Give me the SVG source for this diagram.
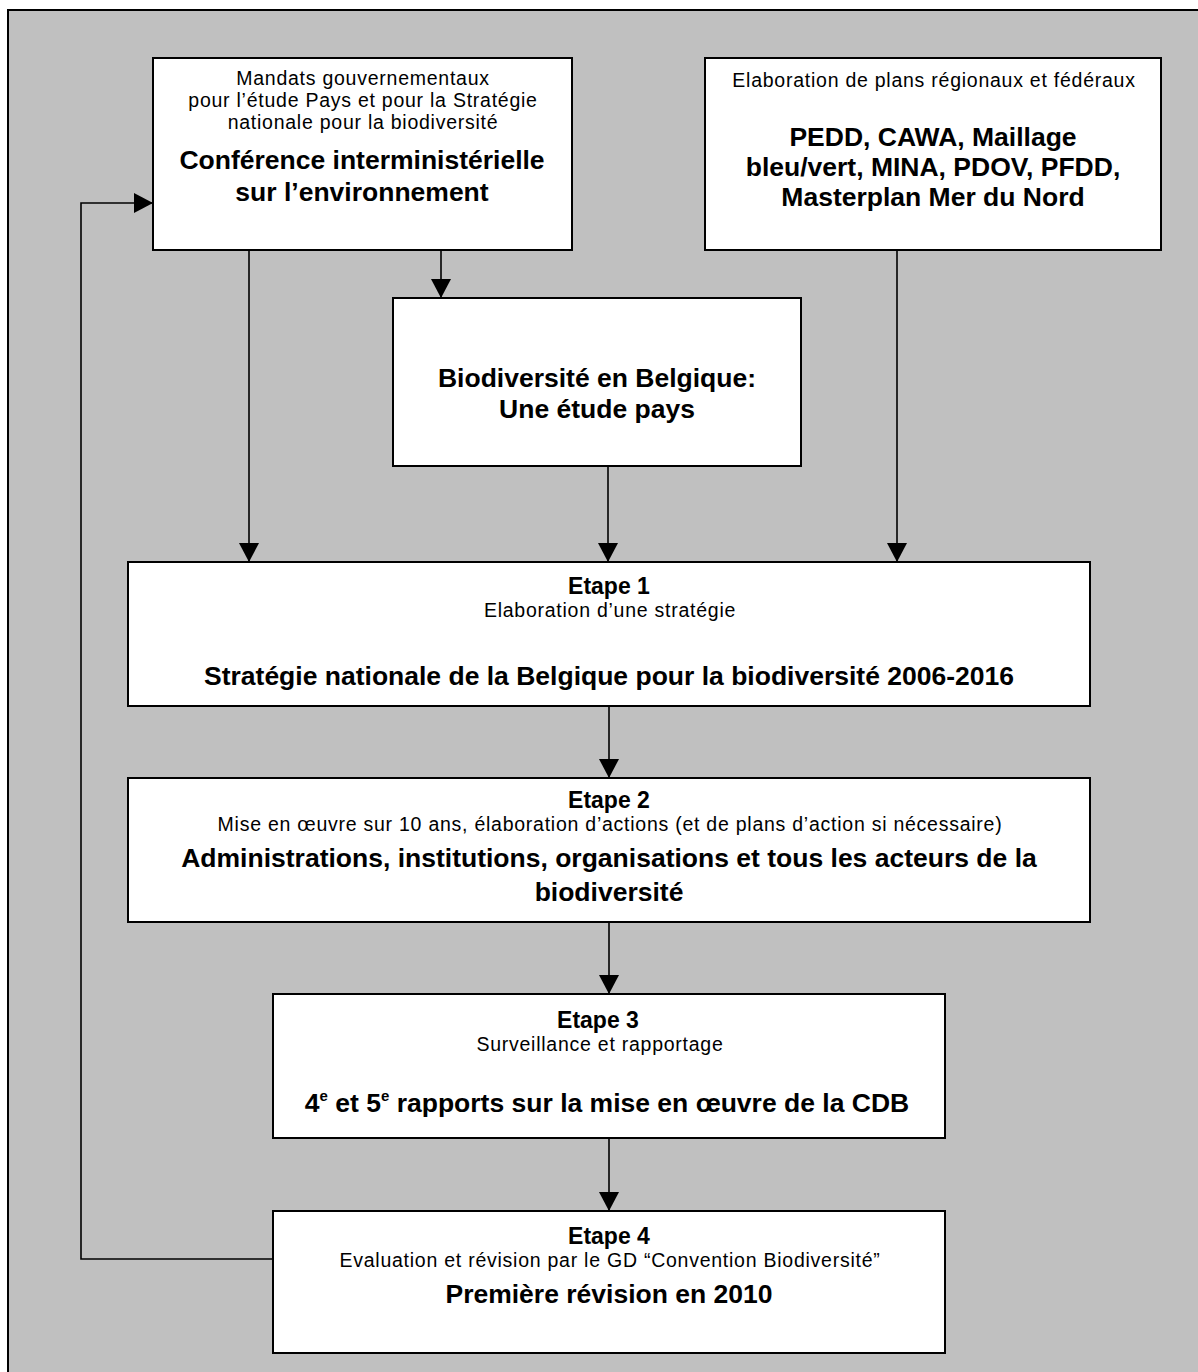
<svg xmlns="http://www.w3.org/2000/svg" width="1198" height="1372" viewBox="0 0 1198 1372">
<style>
.box{fill:#fff;stroke:#000;stroke-width:2}
.ln{fill:none;stroke:#000;stroke-width:1.6}
text{font-family:"Liberation Sans",Arial,sans-serif;fill:#000;text-anchor:middle}
.r{font-size:19.5px;letter-spacing:0.75px}
.b{font-size:26.5px;font-weight:bold}
.h{font-size:23px;font-weight:bold}
</style>
<defs>
<marker id="ah" markerUnits="userSpaceOnUse" viewBox="0 0 19 20" refX="19" refY="10" markerWidth="19" markerHeight="20" orient="auto">
<path d="M0,0 L19,10 L0,20 Z" fill="#000"/>
</marker>
</defs>
<rect x="0" y="0" width="1198" height="1372" fill="#fff"/>
<rect x="8" y="10" width="1200" height="1400" fill="#c0c0c0" stroke="#000" stroke-width="2"/>
<g id="connectors">
<path class="ln" d="M249,250 V562" marker-end="url(#ah)"/>
<path class="ln" d="M441,250 V298" marker-end="url(#ah)"/>
<path class="ln" d="M608,466 V562" marker-end="url(#ah)"/>
<path class="ln" d="M897,250 V562" marker-end="url(#ah)"/>
<path class="ln" d="M609,706 V778" marker-end="url(#ah)"/>
<path class="ln" d="M609,922 V994" marker-end="url(#ah)"/>
<path class="ln" d="M609,1138 V1211" marker-end="url(#ah)"/>
<path class="ln" d="M273,1259 H81 V203 H153" marker-end="url(#ah)"/>
</g>
<g id="mandats">
<rect class="box" x="153" y="58" width="419" height="192"/>
<text class="r" x="363" y="85">Mandats gouvernementaux</text>
<text class="r" x="363" y="107">pour l’étude Pays et pour la Stratégie</text>
<text class="r" x="363" y="129">nationale pour la biodiversité</text>
<text class="b" x="362" y="169">Conférence interministérielle</text>
<text class="b" x="362" y="201">sur l’environnement</text>
</g>
<g id="plans">
<rect class="box" x="705" y="58" width="456" height="192"/>
<text class="r" x="934" y="87">Elaboration de plans régionaux et fédéraux</text>
<text class="b" x="933" y="146">PEDD, CAWA, Maillage</text>
<text class="b" x="933" y="176">bleu/vert, MINA, PDOV, PFDD,</text>
<text class="b" x="933" y="206">Masterplan Mer du Nord</text>
</g>
<g id="etude">
<rect class="box" x="393" y="298" width="408" height="168"/>
<text class="b" x="597" y="387">Biodiversité en Belgique:</text>
<text class="b" x="597" y="418">Une étude pays</text>
</g>
<g id="etape1">
<rect class="box" x="128" y="562" width="962" height="144"/>
<text class="h" x="609" y="594">Etape 1</text>
<text class="r" x="610" y="617">Elaboration d’une stratégie</text>
<text class="b" x="609" y="685">Stratégie nationale de la Belgique pour la biodiversité 2006-2016</text>
</g>
<g id="etape2">
<rect class="box" x="128" y="778" width="962" height="144"/>
<text class="h" x="609" y="808">Etape 2</text>
<text class="r" x="610" y="831">Mise en œuvre sur 10 ans, élaboration d’actions (et de plans d’action si nécessaire)</text>
<text class="b" x="609" y="867">Administrations, institutions, organisations et tous les acteurs de la</text>
<text class="b" x="609" y="901">biodiversité</text>
</g>
<g id="etape3">
<rect class="box" x="273" y="994" width="672" height="144"/>
<text class="h" x="598" y="1028">Etape 3</text>
<text class="r" x="600" y="1051">Surveillance et rapportage</text>
<text class="b" x="607" y="1112">4<tspan font-size="15" dy="-11">e</tspan><tspan dy="11"> et 5</tspan><tspan font-size="15" dy="-11">e</tspan><tspan dy="11"> rapports sur la mise en œuvre de la CDB</tspan></text>
</g>
<g id="etape4">
<rect class="box" x="273" y="1211" width="672" height="142"/>
<text class="h" x="609" y="1244">Etape 4</text>
<text class="r" x="610" y="1267">Evaluation et révision par le GD “Convention Biodiversité”</text>
<text class="b" x="609" y="1303">Première révision en 2010</text>
</g>
</svg>
